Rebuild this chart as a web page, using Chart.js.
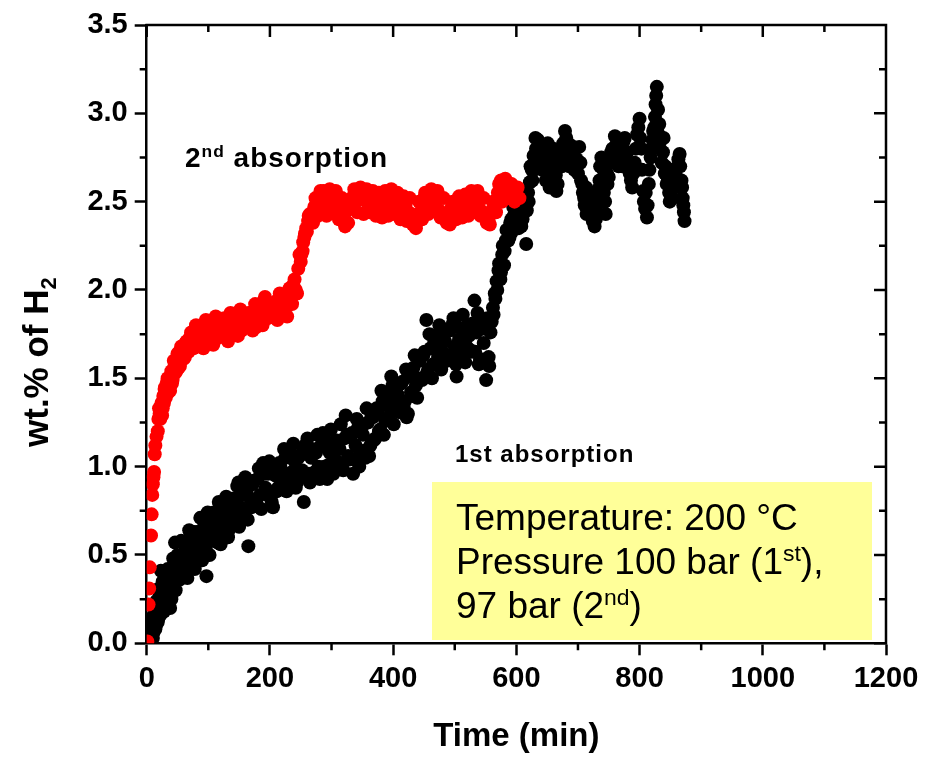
<!DOCTYPE html>
<html>
<head>
<meta charset="utf-8">
<title>H2 absorption</title>
<script src="https://cdn.jsdelivr.net/npm/chart.js@4/dist/chart.umd.min.js"></script>
<style>
  html, body { margin: 0; padding: 0; background: #fff; }
  canvas { display: block; }
</style>
</head>
<body>
<canvas id="absorptionChart" width="934" height="757"></canvas>
<script>
// 2nd absorption (red), two passes of readings across the scattered band
const redTime = [1, 3, 4, 5, 7, 8, 9, 10, 11, 12, 13, 14, 16, 18, 19, 21, 23, 25, 27, 29, 31, 33, 36, 39, 42, 45, 48, 51, 54, 57,
  60, 63, 66, 70, 74, 78, 82, 86, 90, 94, 98, 102, 106, 110, 114, 118, 122, 126, 130, 134, 138, 142, 146, 150, 154, 158, 162, 166, 170, 174,
  178, 182, 186, 190, 194, 198, 202, 206, 210, 214, 218, 222, 226, 230, 234, 238, 242, 246, 250, 253, 256, 259, 262, 265, 268, 272, 276, 280, 285, 290,
  295, 300, 305, 310, 315, 320, 325, 330, 335, 340, 345, 350, 355, 360, 365, 370, 375, 380, 385, 390, 395, 400, 405, 410, 415, 420, 425, 430, 435, 440,
  445, 450, 455, 460, 465, 470, 475, 480, 485, 490, 495, 500, 505, 510, 515, 520, 525, 530, 535, 540, 545, 550, 555, 560, 565, 570, 575, 580, 585, 590,
  595, 600, 605];
const redWt = [0.01, 0.22, 0.31, 0.43, 0.61, 0.73, 0.84, 0.90, 0.94, 0.97, 1.07, 1.12, 1.17, 1.20, 1.27, 1.30, 1.34, 1.29, 1.40, 1.44, 1.39, 1.48, 1.45, 1.50, 1.49, 1.57, 1.54, 1.60, 1.57, 1.64,
  1.61, 1.70, 1.66, 1.73, 1.69, 1.77, 1.72, 1.78, 1.73, 1.81, 1.75, 1.80, 1.73, 1.82, 1.76, 1.83, 1.76, 1.84, 1.78, 1.83, 1.76, 1.84, 1.79, 1.86, 1.77, 1.84, 1.80, 1.87, 1.80, 1.85,
  1.79, 1.88, 1.84, 1.94, 1.85, 1.90, 1.85, 1.92, 1.86, 1.95, 1.88, 1.97, 1.90, 1.98, 1.93, 2.03, 2.00, 2.12, 2.16, 2.22, 2.30, 2.35, 2.39, 2.43, 2.40, 2.47, 2.44, 2.50, 2.47, 2.53,
  2.49, 2.55, 2.51, 2.47, 2.44, 2.41, 2.45, 2.49, 2.53, 2.56, 2.51, 2.55, 2.53, 2.48, 2.52, 2.47, 2.54, 2.49, 2.46, 2.53, 2.56, 2.50, 2.46, 2.49, 2.44, 2.48, 2.44, 2.41, 2.37, 2.43,
  2.49, 2.52, 2.47, 2.54, 2.56, 2.50, 2.45, 2.43, 2.40, 2.42, 2.47, 2.44, 2.48, 2.43, 2.47, 2.50, 2.53, 2.54, 2.49, 2.46, 2.44, 2.42, 2.39, 2.45, 2.50, 2.55, 2.62, 2.57, 2.54, 2.60,
  2.53, 2.56, 2.52];
const redTimeB = [20, 22, 24, 26, 28, 30, 32, 34, 35, 37,
  38, 40, 41, 43, 44, 46, 47, 49, 50, 52,
  53, 55, 56, 58, 62, 65, 68, 72, 76, 80,
  84, 88, 92, 96, 100, 104, 108, 112, 116, 120,
  124, 128, 132, 136, 140, 144, 148, 152, 156, 160,
  164, 168, 172, 176, 180, 184, 188, 192, 196, 200,
  204, 208, 212, 216, 220, 224, 228, 232, 236, 240,
  244, 248, 251, 254, 257, 260, 263, 266, 270, 274,
  278, 282, 287, 292, 297, 302, 307, 312, 317, 322,
  327, 332, 337, 342, 347, 352, 357, 362, 367, 372,
  377, 382, 387, 392, 397, 402, 407, 412, 417, 422,
  427, 432, 437, 442, 447, 452, 457, 462, 467, 472,
  477, 482, 487, 492, 497, 502, 507, 512, 517, 522,
  527, 532, 537, 542, 547, 552, 557, 562, 567, 572,
  577, 582, 587, 592, 597, 602];
const redWtB = [1.33, 1.27, 1.36, 1.33, 1.36, 1.45, 1.42, 1.50, 1.42, 1.48,
  1.43, 1.54, 1.47, 1.52, 1.60, 1.53, 1.60, 1.57, 1.64, 1.56,
  1.65, 1.60, 1.68, 1.62, 1.62, 1.71, 1.65, 1.76, 1.67, 1.80,
  1.70, 1.78, 1.67, 1.83, 1.71, 1.80, 1.69, 1.85, 1.73, 1.82,
  1.74, 1.83, 1.71, 1.87, 1.76, 1.84, 1.74, 1.89, 1.78, 1.86,
  1.79, 1.87, 1.77, 1.92, 1.82, 1.89, 1.80, 1.96, 1.84, 1.91,
  1.86, 1.93, 1.83, 1.98, 1.88, 1.95, 1.85, 2.01, 1.92, 2.06,
  1.98, 2.20, 2.20, 2.27, 2.32, 2.33, 2.42, 2.38, 2.38, 2.52,
  2.42, 2.56, 2.56, 2.42, 2.57, 2.44, 2.56, 2.40, 2.52, 2.36,
  2.38, 2.50, 2.57, 2.44, 2.58, 2.43, 2.57, 2.44, 2.56, 2.42,
  2.55, 2.41, 2.56, 2.42, 2.57, 2.43, 2.55, 2.40, 2.53, 2.39,
  2.52, 2.37, 2.35, 2.50, 2.40, 2.55, 2.43, 2.57, 2.45, 2.56,
  2.41, 2.52, 2.38, 2.37, 2.50, 2.40, 2.53, 2.41, 2.54, 2.42,
  2.56, 2.44, 2.56, 2.42, 2.52, 2.38, 2.37, 2.50, 2.44, 2.60,
  2.50, 2.63, 2.52, 2.60, 2.50, 2.58];

// 1st absorption (black), two passes of readings across the scattered band
const blackTime = [0, 3, 5, 7, 9, 11, 13, 15, 17, 19, 21, 23, 25, 27, 29, 32, 35, 38, 41, 44, 46, 49, 52, 55, 58, 61, 64, 67, 70, 73,
  76, 79, 82, 85, 88, 91, 94, 97, 100, 103, 106, 109, 112, 115, 118, 121, 124, 127, 130, 133, 136, 139, 142, 145, 149, 152, 155, 158, 162, 165,
  168, 172, 176, 180, 184, 189, 193, 197, 201, 205, 209, 213, 217, 221, 225, 229, 232, 236, 240, 244, 248, 252, 255, 259, 263, 267, 271, 275, 279, 283,
  286, 290, 293, 297, 301, 305, 309, 313, 317, 321, 323, 327, 331, 335, 339, 343, 347, 351, 355, 359, 363, 367, 371, 375, 379, 383, 387, 391, 395, 399,
  403, 407, 411, 415, 419, 422, 425, 429, 433, 437, 441, 445, 449, 454, 457, 461, 465, 469, 473, 476, 480, 484, 488, 492, 497, 500, 503, 507, 511, 515,
  519, 523, 527, 532, 535, 539, 543, 547, 551, 555, 558, 562, 565, 568, 571, 574, 577, 580, 583, 586, 589, 592, 595, 598, 601, 604, 607, 610, 613, 616,
  619, 622, 625, 628, 631, 634, 637, 640, 644, 648, 651, 654, 658, 662, 665, 668, 672, 676, 679, 682, 686, 690, 694, 698, 702, 705, 708, 711, 714, 717,
  720, 724, 727, 730, 733, 736, 739, 742, 745, 748, 752, 756, 760, 764, 768, 772, 776, 780, 784, 788, 792, 796, 800, 803, 806, 809, 812, 815, 818, 821,
  824, 826, 828, 830, 832, 835, 838, 841, 844, 848, 851, 854, 858, 862, 865, 868, 870, 872, 873];
const blackWt = [0.00, 0.04, 0.09, 0.02, 0.12, 0.06, 0.17, 0.10, 0.21, 0.14, 0.27, 0.41, 0.22, 0.33, 0.26, 0.36, 0.30, 0.20, 0.38, 0.32, 0.57, 0.43, 0.37, 0.47, 0.41, 0.50, 0.43, 0.53, 0.46, 0.57,
  0.63, 0.50, 0.58, 0.52, 0.62, 0.55, 0.66, 0.38, 0.60, 0.70, 0.62, 0.74, 0.66, 0.57, 0.72, 0.65, 0.79, 0.68, 0.75, 0.64, 0.80, 0.71, 0.78, 0.70, 0.91, 0.77, 0.84, 0.74, 0.86, 0.55,
  0.82, 0.90, 0.78, 0.93, 0.84, 1.02, 0.88, 0.96, 0.83, 0.77, 0.95, 0.88, 1.00, 0.92, 1.05, 0.95, 1.09, 0.97, 1.03, 0.91, 1.06, 0.98, 0.80, 1.13, 0.96, 1.05, 0.94, 1.08, 1.00, 1.12,
  1.19, 0.99, 0.93, 1.08, 1.02, 1.14, 1.03, 1.10, 0.99, 1.16, 1.29, 1.06, 1.17, 0.96, 1.12, 1.22, 1.08, 1.18, 1.05, 1.25, 1.12, 1.28, 1.16, 1.31, 1.21, 1.37, 1.26, 1.42, 1.33, 1.46,
  1.35, 1.41, 1.31, 1.48, 1.37, 1.28, 1.51, 1.42, 1.56, 1.46, 1.60, 1.50, 1.63, 1.83, 1.55, 1.67, 1.58, 1.71, 1.62, 1.75, 1.65, 1.71, 1.60, 1.77, 1.81, 1.68, 1.51, 1.72, 1.63, 1.78,
  1.68, 1.74, 1.65, 1.94, 1.76, 1.58, 1.80, 1.70, 1.49, 1.62, 1.76, 1.90, 1.98, 2.05, 2.11, 2.06, 2.20, 2.14, 2.28, 2.34, 2.30, 2.40, 2.47, 2.38, 2.44, 2.35, 2.48, 2.40, 2.50, 2.26,
  2.55, 2.61, 2.68, 2.76, 2.86, 2.78, 2.70, 2.81, 2.74, 2.62, 2.83, 2.58, 2.66, 2.75, 2.56, 2.70, 2.78, 2.83, 2.90, 2.78, 2.70, 2.77, 2.68, 2.74, 2.81, 2.62, 2.55, 2.48, 2.43, 2.51,
  2.45, 2.39, 2.36, 2.48, 2.57, 2.70, 2.62, 2.55, 2.43, 2.60, 2.72, 2.80, 2.87, 2.75, 2.82, 2.70, 2.86, 2.78, 2.66, 2.58, 2.72, 2.88, 2.97, 2.80, 2.56, 2.46, 2.41, 2.60, 2.75, 2.85,
  2.92, 3.05, 3.15, 3.02, 2.94, 2.85, 2.78, 2.66, 2.60, 2.55, 2.63, 2.52, 2.60, 2.70, 2.77, 2.62, 2.52, 2.44, 2.39];
const blackTimeB = [2, 4, 6, 8, 10, 12, 14, 16, 18, 20,
  22, 24, 26, 28, 31, 34, 37, 40, 43, 47,
  50, 53, 56, 60, 63, 66, 69, 72, 75, 78,
  81, 84, 87, 90, 93, 96, 99, 102, 105, 108,
  111, 114, 117, 120, 123, 126, 129, 132, 135, 138,
  141, 144, 147, 150, 154, 157, 160, 164, 167, 170,
  174, 178, 182, 186, 191, 195, 199, 203, 207, 211,
  215, 219, 223, 227, 231, 234, 238, 242, 246, 250,
  254, 257, 261, 265, 269, 273, 277, 281, 285, 288,
  292, 295, 299, 303, 307, 311, 315, 319, 325, 329,
  333, 337, 341, 345, 349, 353, 357, 361, 365, 369,
  373, 377, 381, 385, 389, 393, 397, 401, 405, 409,
  413, 417, 421, 424, 427, 431, 435, 439, 443, 447,
  451, 455, 459, 463, 467, 471, 475, 478, 482, 486,
  490, 494, 498, 502, 505, 509, 513, 517, 521, 525,
  529, 533, 537, 541, 545, 549, 553, 556, 560, 563,
  566, 569, 572, 575, 578, 581, 584, 587, 590, 593,
  596, 599, 602, 605, 608, 611, 614, 617, 620, 623,
  626, 629, 632, 635, 638, 642, 646, 650, 653, 656,
  660, 664, 667, 670, 674, 678, 681, 684, 688, 692,
  696, 700, 704, 707, 710, 713, 716, 719, 722, 726,
  729, 732, 735, 738, 741, 744, 747, 750, 754, 758,
  762, 766, 770, 774, 778, 782, 786, 790, 794, 798,
  801, 804, 807, 810, 813, 816, 819, 822, 825, 827,
  829, 831, 833, 836, 839, 842, 846, 849, 852, 856,
  860, 863, 866, 869, 871];
const blackWtB = [0.07, 0.01, 0.14, 0.09, 0.03, 0.20, 0.08, 0.24, 0.12, 0.31,
  0.16, 0.28, 0.35, 0.18, 0.29, 0.42, 0.34, 0.25, 0.48, 0.30,
  0.50, 0.36, 0.58, 0.40, 0.55, 0.37, 0.64, 0.46, 0.60, 0.42,
  0.63, 0.50, 0.71, 0.47, 0.66, 0.53, 0.74, 0.50, 0.70, 0.58,
  0.73, 0.60, 0.80, 0.56, 0.76, 0.63, 0.83, 0.60, 0.78, 0.67,
  0.82, 0.69, 0.89, 0.66, 0.85, 0.73, 0.94, 0.70, 0.90, 0.77,
  0.92, 0.80, 0.99, 0.76, 0.96, 0.84, 1.03, 0.80, 0.98, 0.86,
  1.02, 0.90, 1.10, 0.86, 1.06, 0.92, 1.13, 0.88, 1.05, 0.94,
  1.09, 0.95, 1.16, 0.91, 1.10, 0.97, 1.18, 0.93, 1.12, 1.00,
  1.14, 1.01, 1.21, 0.96, 1.15, 1.02, 1.24, 0.98, 1.18, 1.04,
  1.19, 1.04, 1.27, 1.00, 1.22, 1.09, 1.33, 1.06, 1.29, 1.15,
  1.33, 1.20, 1.43, 1.18, 1.40, 1.28, 1.51, 1.24, 1.45, 1.31,
  1.47, 1.34, 1.55, 1.30, 1.52, 1.40, 1.63, 1.39, 1.60, 1.49,
  1.65, 1.53, 1.75, 1.50, 1.71, 1.59, 1.80, 1.55, 1.74, 1.63,
  1.77, 1.63, 1.84, 1.58, 1.79, 1.64, 1.86, 1.59, 1.80, 1.66,
  1.81, 1.65, 1.87, 1.61, 1.78, 1.60, 1.84, 1.57, 1.82, 1.86,
  1.95, 2.00, 2.15, 2.10, 2.25, 2.22, 2.34, 2.28, 2.38, 2.33,
  2.42, 2.50, 2.38, 2.44, 2.36, 2.46, 2.55, 2.45, 2.50, 2.70,
  2.62, 2.68, 2.80, 2.85, 2.75, 2.68, 2.80, 2.70, 2.76, 2.62,
  2.80, 2.65, 2.60, 2.76, 2.70, 2.80, 2.86, 2.72, 2.82, 2.72,
  2.80, 2.66, 2.72, 2.60, 2.52, 2.58, 2.46, 2.55, 2.42, 2.45,
  2.40, 2.52, 2.62, 2.75, 2.68, 2.50, 2.66, 2.64, 2.78, 2.72,
  2.82, 2.70, 2.78, 2.84, 2.72, 2.70, 2.62, 2.66, 2.80, 2.92,
  2.86, 2.68, 2.50, 2.55, 2.48, 2.68, 2.80, 2.90, 2.98, 3.10,
  2.92, 2.88, 2.80, 2.72, 2.86, 2.70, 2.62, 2.50, 2.68, 2.58,
  2.64, 2.74, 2.70, 2.58, 2.48];

const xTicks = [0, 200, 400, 600, 800, 1000, 1200];
const xMinorTicks = [100, 300, 500, 700, 900, 1100];
const yTicks = [0, 0.5, 1.0, 1.5, 2.0, 2.5, 3.0, 3.5];
const yMinorTicks = [0.25, 0.75, 1.25, 1.75, 2.25, 2.75, 3.25];

const FONT = '"Liberation Sans", Arial, sans-serif';

const toPoints = (ts, vs) => ts.map((t, i) => ({ x: t, y: vs[i] }));

// draw a line of text with super/subscript pieces: [text, shift] (1 = sup, -1 = sub)
function drawRich(ctx, parts, x, y, size, weight) {
  let cx = x;
  parts.forEach(([txt, shift]) => {
    const s = shift ? size * 0.62 : size;
    ctx.font = `${weight} ${s}px ${FONT}`;
    const dy = shift === 1 ? -size * 0.36 : shift === -1 ? size * 0.22 : 0;
    ctx.fillText(txt, cx, y + dy);
    cx += ctx.measureText(txt).width;
  });
}

const frameExtras = {
  id: "frameExtras",
  afterDraw(chart) {
    const { ctx, chartArea: a, scales } = chart;
    const xs = scales.x;
    const ys = scales.y;
    ctx.save();

    // top/right frame plus mirrored and minor ticks
    ctx.strokeStyle = "#000";
    ctx.lineWidth = 2.5;
    ctx.beginPath();
    ctx.moveTo(a.left - 1.25, a.top);
    ctx.lineTo(a.right, a.top);
    ctx.lineTo(a.right, a.bottom + 1.25);
    xTicks.forEach((v) => {
      const p = xs.getPixelForValue(v);
      ctx.moveTo(p, a.top);
      ctx.lineTo(p, a.top + 12);
    });
    xMinorTicks.forEach((v) => {
      const p = xs.getPixelForValue(v);
      ctx.moveTo(p, a.top);
      ctx.lineTo(p, a.top + 7);
      ctx.moveTo(p, a.bottom);
      ctx.lineTo(p, a.bottom + 7);
    });
    yTicks.forEach((v) => {
      const p = ys.getPixelForValue(v);
      ctx.moveTo(a.right, p);
      ctx.lineTo(a.right - 12, p);
    });
    yMinorTicks.forEach((v) => {
      const p = ys.getPixelForValue(v);
      ctx.moveTo(a.right, p);
      ctx.lineTo(a.right - 7, p);
      ctx.moveTo(a.left, p);
      ctx.lineTo(a.left - 7, p);
    });
    ctx.stroke();

    ctx.fillStyle = "#000";
    ctx.textAlign = "left";
    ctx.textBaseline = "alphabetic";

    // y axis title with subscript
    ctx.save();
    ctx.translate(48, 447);
    ctx.rotate(-Math.PI / 2);
    drawRich(ctx, [["wt.% of H", 0], ["2", -1]], 0, 0, 35, "bold");
    ctx.restore();

    // series labels
    ctx.letterSpacing = "1px";
    drawRich(ctx, [["2", 0], ["nd", 1], [" absorption", 0]], 185, 167, 28, "bold");
    drawRich(ctx, [["1st absorption", 0]], 455, 462, 24, "bold");
    ctx.letterSpacing = "0px";

    // conditions box
    ctx.fillStyle = "#ffff99";
    ctx.fillRect(432, 482, 440, 158);
    ctx.fillStyle = "#000";
    drawRich(ctx, [["Temperature: 200 \u00B0C", 0]], 456, 530, 37, "normal");
    drawRich(ctx, [["Pressure 100 bar (1", 0], ["st", 1], ["),", 0]], 456, 574, 37, "normal");
    drawRich(ctx, [["97 bar (2", 0], ["nd", 1], [")", 0]], 456, 618, 37, "normal");

    ctx.restore();
  },
};

const tickFont = { family: FONT, size: 29, weight: "bold" };

new Chart(document.getElementById("absorptionChart"), {
  type: "scatter",
  data: {
    datasets: [
      {
        label: "2nd absorption",
        data: toPoints(redTime, redWt).concat(toPoints(redTimeB, redWtB)),
        pointBackgroundColor: "#ff0000",
        pointBorderWidth: 0,
        pointRadius: 7,
        order: 0,
      },
      {
        label: "1st absorption",
        data: toPoints(blackTime, blackWt).concat(toPoints(blackTimeB, blackWtB)),
        pointBackgroundColor: "#000000",
        pointBorderWidth: 0,
        pointRadius: 7,
        order: 1,
      },
    ],
  },
  options: {
    responsive: false,
    animation: false,
    events: [],
    layout: {
      autoPadding: false,
      padding: { left: 0, top: 25, right: 48, bottom: 0 },
    },
    plugins: {
      legend: { display: false },
      tooltip: { enabled: false },
    },
    scales: {
      x: {
        type: "linear",
        min: 0,
        max: 1200,
        afterBuildTicks: (s) => {
          s.ticks = xTicks.map((v) => ({ value: v }));
        },
        afterFit: (s) => {
          s.height = 757 - 643.3;
        },
        ticks: {
          font: tickFont,
          color: "#000",
          padding: 6,
          maxRotation: 0,
          callback: (v) => String(v),
        },
        grid: {
          display: true,
          drawOnChartArea: false,
          drawTicks: true,
          tickLength: 12,
          tickWidth: 2.5,
          tickColor: "#000",
        },
        border: { display: true, width: 2.5, color: "#000" },
        title: {
          display: true,
          text: "Time (min)",
          color: "#000",
          font: { family: FONT, size: 33, weight: "bold" },
          padding: { top: 0, bottom: 0 },
        },
      },
      y: {
        type: "linear",
        min: 0,
        max: 3.5,
        afterBuildTicks: (s) => {
          s.ticks = yTicks.map((v) => ({ value: v }));
        },
        afterFit: (s) => {
          s.width = 146.7;
        },
        ticks: {
          font: tickFont,
          color: "#000",
          padding: 7,
          callback: (v) => Number(v).toFixed(1),
        },
        grid: {
          display: true,
          drawOnChartArea: false,
          drawTicks: true,
          tickLength: 12,
          tickWidth: 2.5,
          tickColor: "#000",
        },
        border: { display: true, width: 2.5, color: "#000" },
      },
    },
  },
  plugins: [frameExtras],
});
</script>
</body>
</html>
